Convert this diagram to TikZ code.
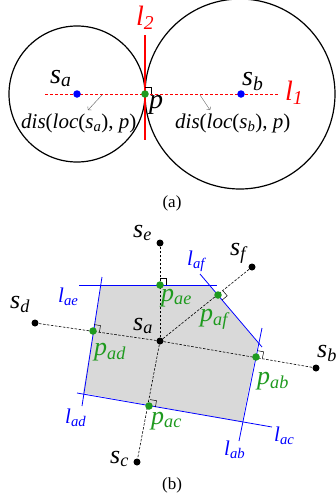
\documentclass[tikz,border=0pt]{standalone}
\usepackage{fontspec}
\setmainfont{Liberation Serif}
\usetikzlibrary{arrows.meta, calc}
\definecolor{ptgreen}{HTML}{1E9A1E}
\definecolor{cellgray}{HTML}{D9D9D9}

\newcommand{\sub}[2]{\textit{#1}\textsubscript{\textit{#2}}}
\newcommand{\perpmark}[3]{%
  \path ($(#1)!6.5pt!(#2)$) coordinate (m1) ($(#1)!6.5pt!(#3)$) coordinate (m2);
  \draw[line width=0.5pt] (m1) -- ($(m1)+(m2)-(#1)$) -- (m2);}

\begin{document}
\begin{tikzpicture}[x=1pt, y=-1pt,
  dot/.style={circle, fill, inner sep=0pt, minimum size=7.5pt},
  lab/.style={anchor=base west, inner sep=0pt},
  big/.style={lab, font=\fontsize{28}{28}\selectfont},
  mid/.style={lab, font=\fontsize{26}{26}\selectfont},
  small/.style={lab, font=\fontsize{21}{21}\selectfont},
  caption/.style={font=\fontsize{17}{17}\selectfont},
  bisector/.style={blue, line width=0.8pt},
  link/.style={dash pattern=on 2.5pt off 1.5pt, line width=0.6pt},
  arr/.style={-{To[length=2.5pt]}, gray!70!black, line width=0.4pt},
]
  \useasboundingbox (0,0) rectangle (336,498);

  \coordinate (l1a) at (45,94);
  \coordinate (l1b) at (278,94);
  \coordinate (l2a) at (145,35);
  \coordinate (l2b) at (145,140);
  \draw[line width=1.2pt] (77,94) circle[radius=68pt];
  \draw[line width=1.2pt] (240,94) circle[radius=95pt];
  \draw[red, line width=0.8pt, dash pattern=on 3pt off 2pt] (l1a) -- (l1b);
  \draw[red, line width=1.2pt] (l2a) -- (l2b);
  \node[dot, blue] (ca) at (77,94) {};
  \node[dot, blue] (cb) at (241,94) {};
  \node[dot, ptgreen] (p) at (145,94) {};
  \perpmark{p}{cb}{l2a}
  \node[big] (sal) at (50,83) {\sub{s}{a}};
  \node[big] (sbl) at (242,85) {\sub{s}{b}};
  \node[big] (pl) at (149,108) {\textit{p}};
  \node[big, red] (l1l) at (285,100) {\sub{l}{1}};
  \node[big, red] (l2l) at (136,25) {\sub{l}{2}};
  \node[small] (disa) at (21,128) {\textit{dis}(\textit{loc}(\sub{s}{a}), \textit{p})};
  \node[small] (disb) at (175,128) {\textit{dis}(\textit{loc}(\sub{s}{b}), \textit{p})};
  \coordinate (ta1) at (102,95);
  \coordinate (ta2) at (88,110);
  \coordinate (tb1) at (200,95);
  \coordinate (tb2) at (210,110);
  \draw[arr] (ta1) -- (ta2);
  \draw[arr] (tb1) -- (tb2);
  \node[caption] (capa) at (172,203) {(a)};

  \fill[cellgray] (101,285) -- (209,285) -- (258,343) -- (242,422) -- (83,393) -- cycle;
  \coordinate (ae1) at (79,285);  \coordinate (ae2) at (217,285);
  \coordinate (af1) at (200,274); \coordinate (af2) at (262,347);
  \coordinate (ad1) at (102,277); \coordinate (ad2) at (82,406);
  \coordinate (ab1) at (262,328); \coordinate (ab2) at (239,441);
  \coordinate (ac1) at (77,393);  \coordinate (ac2) at (272,427);
  \foreach \l in {ae,af,ad,ab,ac}
    \draw[bisector] (\l1) -- (\l2);

  \node[dot, black, minimum size=7pt] (sa) at (160,341) {};
  \node[dot, black, minimum size=7pt] (sb) at (316,368) {};
  \node[dot, black, minimum size=7pt] (sc) at (137,462) {};
  \node[dot, black, minimum size=7pt] (sd) at (35,323) {};
  \node[dot, black, minimum size=7pt] (se) at (160,243) {};
  \node[dot, black, minimum size=7pt] (sf) at (252,267) {};
  \foreach \s in {b,c,d,e,f}
    \draw[link] (sa) -- (s\s);

  \node[dot, ptgreen] (pae) at (160,285) {};
  \node[dot, ptgreen] (paf) at (218,295) {};
  \node[dot, ptgreen] (pad) at (93,331) {};
  \node[dot, ptgreen] (pab) at (256,357) {};
  \node[dot, ptgreen] (pac) at (149,406) {};
  \perpmark{pae}{se}{ae2}
  \perpmark{paf}{sf}{af2}
  \perpmark{pad}{sa}{ad1}
  \perpmark{pab}{sb}{ab1}
  \perpmark{pac}{sa}{ac2}

  \node[mid] (sal2) at (133,330) {\sub{s}{a}};
  \node[mid] (sbl2) at (317,357) {\sub{s}{b}};
  \node[mid] (scl) at (110,463) {\sub{s}{c}};
  \node[mid] (sdl) at (10,308) {\sub{s}{d}};
  \node[mid] (sel) at (133,237) {\sub{s}{e}};
  \node[mid] (sfl) at (230,255) {\sub{s}{f}};
  \node[mid, ptgreen] (pael) at (161,301) {\sub{p}{ae}};
  \node[mid, ptgreen] (pafl) at (200,321) {\sub{p}{af}};
  \node[mid, ptgreen] (padl) at (94,355) {\sub{p}{ad}};
  \node[mid, ptgreen] (pabl) at (257,384) {\sub{p}{ab}};
  \node[mid, ptgreen] (pacl) at (151,424) {\sub{p}{ac}};
  \node[small, blue] (lael) at (58,302) {\sub{l}{ae}};
  \node[small, blue] (lafl) at (187,265) {\sub{l}{af}};
  \node[small, blue] (ladl) at (65,423) {\sub{l}{ad}};
  \node[small, blue] (labl) at (224,455) {\sub{l}{ab}};
  \node[small, blue] (lacl) at (274,441) {\sub{l}{ac}};
  \node[caption] (capb) at (172,485) {(b)};
\end{tikzpicture}
\end{document}
